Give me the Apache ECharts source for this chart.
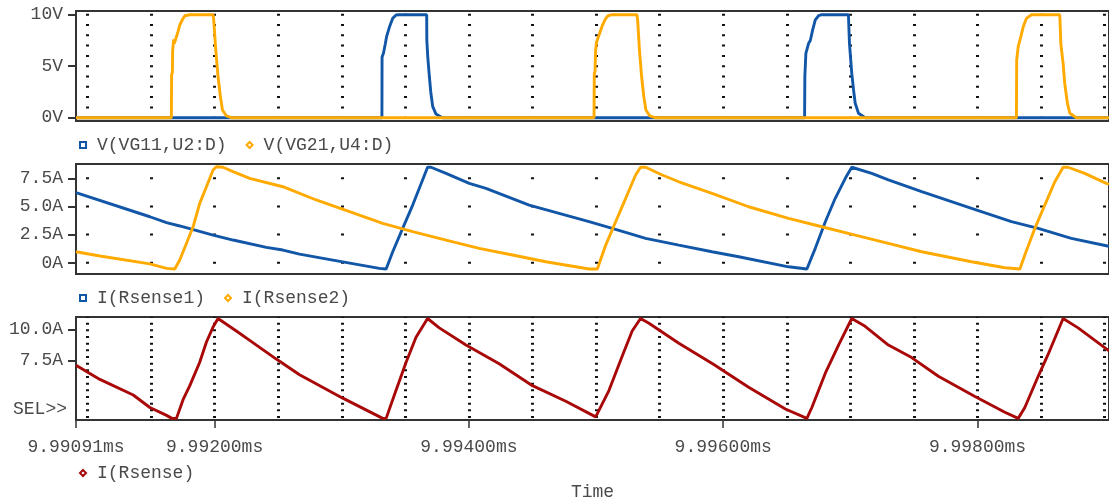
<!DOCTYPE html>
<html><head><meta charset="utf-8">
<script src="https://cdn.jsdelivr.net/npm/echarts@6/dist/echarts.min.js"></script>
<style>html,body{margin:0;padding:0;background:#fff}#c{width:1109px;height:502px}</style>
</head><body><div id="c"></div>
<script>
// time values are in microseconds
const xMin = 9990.91, xMax = 9999.034;
const xTickValues = [9990.91, 9992, 9994, 9996, 9998];
const xTickLabels = ['9.99091ms', '9.99200ms', '9.99400ms', '9.99600ms', '9.99800ms'];
const xGridValues = [9991.0, 9991.5, 9992.0, 9992.5, 9993.0, 9993.5, 9994.0, 9994.5, 9995.0, 9995.5, 9996.0, 9996.5, 9997.0, 9997.5, 9998.0, 9998.5, 9999.0];

const vTicks = [0, 5, 10], vLabels = ['0V', '5V', '10V'];
const iTicks = [0, 2.5, 5, 7.5], iLabels = ['0A', '2.5A', '5.0A', '7.5A'];
const sTicks = [7.5, 10], sLabels = ['7.5A', '10.0A'];

const names = ['V(VG11,U2:D)', 'V(VG21,U4:D)', 'I(Rsense1)', 'I(Rsense2)', 'I(Rsense)'];

const vg11 = [[9990.91,0],[9993.316,0],[9993.317,5.9],[9993.328,6.25],[9993.343,7.2],[9993.353,7.9],[9993.375,8.8],[9993.401,9.65],[9993.427,9.97],[9993.453,10],[9993.668,10],[9993.669,7.5],[9993.677,5.8],[9993.689,4.0],[9993.700,2.5],[9993.715,1.1],[9993.741,0.35],[9993.791,0],[9996.640,0],[9996.642,4.0],[9996.650,6.25],[9996.671,7.2],[9996.685,7.5],[9996.703,8.5],[9996.724,9.5],[9996.750,9.9],[9996.776,10],[9996.985,10],[9996.987,9.2],[9996.993,7.2],[9997.011,4.3],[9997.025,2.7],[9997.038,1.4],[9997.064,0.43],[9997.116,0],[9999.034,0]];

const vg21 = [[9990.91,0],[9991.660,0],[9991.662,4.2],[9991.668,4.4],[9991.670,6.5],[9991.675,7.2],[9991.679,7.6],[9991.683,7.2],[9991.711,8.3],[9991.726,9.0],[9991.750,9.6],[9991.766,9.9],[9991.805,10],[9991.988,10],[9991.993,9.5],[9992.009,6.6],[9992.027,4.0],[9992.046,2.0],[9992.062,0.75],[9992.093,0.17],[9992.132,0],[9994.984,0],[9994.986,4.3],[9994.992,4.5],[9994.996,6.5],[9995.003,7.3],[9995.031,8.3],[9995.051,9.0],[9995.074,9.6],[9995.094,9.9],[9995.125,10],[9995.321,10],[9995.327,9.5],[9995.341,6.6],[9995.358,4.0],[9995.376,2.0],[9995.392,0.75],[9995.423,0.17],[9995.463,0],[9998.306,0],[9998.308,5.6],[9998.320,6.9],[9998.341,7.9],[9998.359,8.8],[9998.385,9.65],[9998.424,10],[9998.647,10],[9998.655,7.2],[9998.673,5.3],[9998.686,3.3],[9998.707,1.4],[9998.726,0.43],[9998.777,0],[9999.034,0]];

const iRs1 = [[9990.910,6.23],[9991.491,4.09],[9991.622,3.56],[9991.726,3.27],[9991.988,2.46],[9992.145,2.02],[9992.407,1.37],[9992.537,1.13],[9992.668,0.77],[9992.930,0.24],[9993.296,-0.5],[9993.349,-0.56],[9993.401,0.98],[9993.479,3.06],[9993.558,5.13],[9993.610,6.62],[9993.675,8.49],[9993.702,8.49],[9993.820,7.95],[9994.003,7.06],[9994.134,6.62],[9994.474,5.13],[9994.945,3.65],[9995.127,3.06],[9995.390,2.17],[9995.651,1.57],[9995.912,0.98],[9996.122,0.53],[9996.514,-0.36],[9996.658,-0.56],[9996.724,1.28],[9996.803,3.65],[9996.881,5.73],[9996.960,7.51],[9997.011,8.49],[9997.168,7.95],[9997.299,7.36],[9997.561,6.32],[9997.953,4.84],[9998.267,3.65],[9998.477,3.06],[9998.738,2.17],[9999.013,1.51],[9999.034,1.45]];

const iRs2 = [[9990.910,0.98],[9991.098,0.6],[9991.491,-0.1],[9991.622,-0.5],[9991.687,-0.56],[9991.726,0.24],[9991.779,1.73],[9991.831,3.2],[9991.883,5.28],[9991.936,6.76],[9991.988,8.25],[9992.014,8.54],[9992.066,8.49],[9992.145,8.1],[9992.276,7.51],[9992.537,6.76],[9992.799,5.58],[9993.061,4.54],[9993.322,3.5],[9993.558,2.76],[9993.820,2.02],[9994.081,1.28],[9994.343,0.69],[9994.605,0.09],[9994.945,-0.56],[9995.010,-0.56],[9995.076,1.57],[9995.154,3.65],[9995.233,5.73],[9995.311,7.8],[9995.350,8.49],[9995.390,8.49],[9995.520,7.8],[9995.651,7.2],[9995.912,6.17],[9996.200,4.98],[9996.514,3.95],[9996.776,3.2],[9997.038,2.46],[9997.299,1.73],[9997.561,0.98],[9997.953,0.09],[9998.215,-0.44],[9998.333,-0.56],[9998.372,0.69],[9998.451,3.06],[9998.529,5.13],[9998.608,7.2],[9998.673,8.49],[9998.712,8.49],[9998.843,7.95],[9999.013,7.06],[9999.034,6.98]];

const iRs = [[9990.910,7.13],[9991.098,6.0],[9991.360,4.75],[9991.491,3.75],[9991.622,3.12],[9991.664,2.88],[9991.700,2.88],[9991.752,4.38],[9991.805,5.5],[9991.883,7.38],[9991.936,9.0],[9991.988,10.2],[9992.027,10.88],[9992.171,9.88],[9992.276,9.13],[9992.485,7.63],[9992.668,6.38],[9993.008,4.5],[9993.322,2.88],[9993.349,2.88],[9993.427,5.13],[9993.506,7.38],[9993.584,9.38],[9993.675,10.88],[9993.767,10.13],[9993.977,8.75],[9994.238,7.25],[9994.500,5.5],[9994.762,4.25],[9994.997,3.0],[9995.010,2.88],[9995.102,5.13],[9995.206,7.88],[9995.284,9.88],[9995.350,10.88],[9995.416,10.5],[9995.651,8.9],[9995.926,7.2],[9996.200,5.37],[9996.489,3.63],[9996.658,2.88],[9996.697,3.75],[9996.803,6.5],[9996.907,8.75],[9997.011,10.88],[9997.116,10.25],[9997.299,8.75],[9997.482,7.75],[9997.692,6.25],[9997.980,4.63],[9998.215,3.37],[9998.320,2.88],[9998.372,3.75],[9998.477,6.25],[9998.555,8.0],[9998.673,10.88],[9998.791,10.13],[9999.013,8.45],[9999.034,8.3]];

const BLUE = '#1256a8', ORANGE = '#ffaa00', RED = '#a80808';
const TXT = '#4a4a4a', FRAME = '#333333';
const FONT = 'Liberation Mono';

function lookup(vals, labs, v) {
  let best = 0;
  for (let i = 1; i < vals.length; i++) if (Math.abs(vals[i] - v) < Math.abs(vals[best] - v)) best = i;
  return labs[best];
}

const gridTops = [11, 164, 317];
const yRanges = [[-0.32, 10.36], [-1.0, 8.78], [2.75, 11.0]];
const dashes = [[2, 8.3], [2, 26.12], [2, 4.667]];
const dashOffsets = [-2.7, -13.3, -5.67];
const yTickSets = [[vTicks, vLabels], [iTicks, iLabels], [sTicks, sLabels]];

const grid = gridTops.map(t => ({
  left: 76, top: t, width: 1035, height: 110, show: true,
  borderColor: FRAME, borderWidth: 2, backgroundColor: 'transparent'
}));

const xAxis = gridTops.map((t, i) => ({
  type: 'value', gridIndex: i, min: xMin, max: xMax, position: 'top',
  axisLine: { show: false },
  axisTick: { show: false, customValues: xGridValues },
  axisLabel: { show: false },
  splitLine: { show: true, lineStyle: { color: '#111', width: 3, type: dashes[i], dashOffset: dashOffsets[i] } }
}));
xAxis.push({
  type: 'value', gridIndex: 2, min: xMin, max: xMax, position: 'bottom',
  axisLine: { show: false },
  axisTick: { show: true, customValues: xTickValues, length: 8, lineStyle: { color: FRAME, width: 1.5 } },
  axisLabel: { customValues: xTickValues, margin: 18, color: TXT, fontFamily: FONT, fontSize: 18,
    formatter: v => lookup(xTickValues, xTickLabels, v) },
  splitLine: { show: false },
  name: 'Time', nameLocation: 'middle', nameGap: 63,
  nameTextStyle: { color: TXT, fontFamily: FONT, fontSize: 18 }
});

const yAxis = yRanges.map((r, i) => ({
  type: 'value', gridIndex: i, min: r[0], max: r[1],
  axisLine: { show: false },
  axisTick: { show: true, customValues: yTickSets[i][0], length: 8, lineStyle: { color: FRAME, width: 2 } },
  axisLabel: { customValues: yTickSets[i][0], margin: 13, color: TXT, fontFamily: FONT, fontSize: 18,
    formatter: v => lookup(yTickSets[i][0], yTickSets[i][1], v) },
  splitLine: { show: false }
}));

function line(name, data, xi, yi, color) {
  return { type: 'line', name, data, xAxisIndex: xi, yAxisIndex: yi, showSymbol: false, symbol: 'none',
    lineStyle: { width: 2.9, color }, itemStyle: { color }, emphasis: { disabled: true } };
}

const legendText = { color: TXT, fontFamily: FONT, fontSize: 18, padding: [0, 0, 0, 6] };
function legItem(name, icon, color) {
  return { name, icon, itemStyle: { color: '#fff', borderColor: color, borderWidth: 2 } };
}

const option = {
  animation: false,
  backgroundColor: '#fff',
  grid, xAxis, yAxis,
  legend: [
    { left: 74, top: 131, itemWidth: 6, itemHeight: 6, itemGap: 19, selectedMode: false, textStyle: legendText,
      data: [legItem(names[0], 'rect', BLUE), legItem(names[1], 'diamond', ORANGE)] },
    { left: 74, top: 284, itemWidth: 6, itemHeight: 6, itemGap: 19, selectedMode: false, textStyle: legendText,
      data: [legItem(names[2], 'rect', BLUE), legItem(names[3], 'diamond', ORANGE)] },
    { left: 74, top: 459, itemWidth: 6, itemHeight: 6, itemGap: 19, selectedMode: false, textStyle: legendText,
      data: [legItem(names[4], 'diamond', RED)] }
  ],
  graphic: [
    { type: 'text', left: 13, top: 400, style: { text: 'SEL>>', fill: TXT, font: '18px "Liberation Mono"' } }
  ],
  series: [
    line(names[0], vg11, 0, 0, BLUE),
    line(names[1], vg21, 0, 0, ORANGE),
    line(names[2], iRs1, 1, 1, BLUE),
    line(names[3], iRs2, 1, 1, ORANGE),
    line(names[4], iRs, 2, 2, RED)
  ]
};
const chart = echarts.init(document.getElementById('c'), null, { renderer: 'canvas' });
chart.setOption(option);
</script></body></html>
